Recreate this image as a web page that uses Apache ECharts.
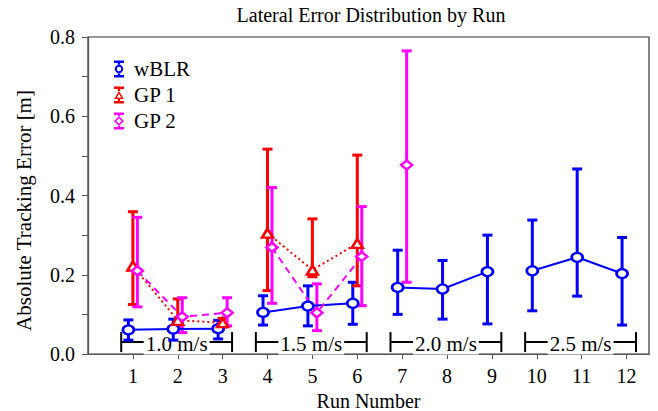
<!DOCTYPE html>
<html><head><meta charset="utf-8">
<script src="https://cdn.jsdelivr.net/npm/echarts@6/dist/echarts.min.js"></script>
<style>html,body{margin:0;padding:0;background:#fff}#c{width:658px;height:411px}</style>
</head><body><div id="c"></div><script>
// ---- data ----
const runs = [1,2,3,4,5,6,7,8,9,10,11,12];
const wblrMean = [0.061, 0.063, 0.064, 0.105, 0.121, 0.128, 0.168, 0.164, 0.208, 0.210, 0.244, 0.203];
const wblrLow  = [0.035, 0.035, 0.038, 0.073, 0.071, 0.075, 0.100, 0.088, 0.076, 0.109, 0.146, 0.073];
const wblrHigh = [0.086, 0.088, 0.085, 0.147, 0.172, 0.181, 0.262, 0.236, 0.300, 0.338, 0.467, 0.294];
const gp1Mean = [0.222, 0.085, 0.079, 0.305, 0.212, 0.279];
const gp1Low  = [0.125, 0.070, 0.068, 0.160, 0.195, 0.172];
const gp1High = [0.359, 0.139, 0.090, 0.517, 0.341, 0.502];
const gp2Mean = [0.210, 0.094, 0.104, 0.269, 0.104, 0.246, 0.477];
const gp2Low  = [0.119, 0.054, 0.071, 0.128, 0.059, 0.122, 0.181];
const gp2High = [0.345, 0.142, 0.142, 0.420, 0.177, 0.372, 0.765];
const speedGroups = [[1,3],[4,6],[7,9],[10,12]];
const speedLabels = ['1.0 m/s','1.5 m/s','2.0 m/s','2.5 m/s'];
const xTickLabels = runs;
const yTickLabels = [0, 0.2, 0.4, 0.6, 0.8];
const yTicks = [0, 0.1, 0.2, 0.3, 0.4, 0.5, 0.6, 0.7, 0.8];

// ---- style ----
const FONT = 'Liberation Serif, Times New Roman, serif';
const BLUE = '#0000ff', RED = '#ff0000', MAG = '#ff00ff';
const DX = {wblr: -0.1, gp1: 0, gp2: 0.1};

const STEM_TOP = 'M1 0H11V2.5H1Z M4.8 2.5H7.2V4.4H4.8Z';
const STEM_BOT = 'M4.8 12.6H7.2V14.5H4.8Z M1 14.5H11V17H1Z';
const ICON_CIRCLE = 'path://' + STEM_TOP + ' M1.8 8.5A4.2 4.2 0 1 0 10.2 8.5A4.2 4.2 0 1 0 1.8 8.5Z M3.8 8.5A2.2 2.2 0 1 1 8.2 8.5A2.2 2.2 0 1 1 3.8 8.5Z ' + STEM_BOT;
const ICON_TRI = 'path://' + STEM_TOP + ' M6 4.4L10.8 12.6L1.2 12.6Z M6 7.4L3.6 11.3L8.4 11.3Z ' + STEM_BOT;
const ICON_DIA = 'path://M1 0H11V2.5H1Z M4.8 2.5H7.2V3.6H4.8Z M6 3.4L11 8.5L6 13.6L1 8.5Z M6 5.7L3.3 8.5L6 11.3L8.7 8.5Z M4.8 13.4H7.2V14.5H4.8Z M1 14.5H11V17H1Z';

function errSeries(name, color, dx, lo, hi) {
  return {
    type: 'custom', name, silent: true, animation: false, z: 2,
    encode: {x: 0, y: [1, 2]},
    data: lo.map((l, i) => [runs[i] + dx, l, hi[i]]),
    renderItem: (params, api) => {
      const x = api.value(0);
      const p1 = api.coord([x, api.value(1)]), p2 = api.coord([x, api.value(2)]);
      const hw = 5, st = {stroke: color, lineWidth: 3};
      return {type: 'group', children: [
        {type: 'line', shape: {x1: p1[0], y1: p1[1], x2: p2[0], y2: p2[1]}, style: st},
        {type: 'line', shape: {x1: p1[0]-hw, y1: p1[1], x2: p1[0]+hw, y2: p1[1]}, style: st},
        {type: 'line', shape: {x1: p2[0]-hw, y1: p2[1], x2: p2[0]+hw, y2: p2[1]}, style: st}
      ]};
    }
  };
}
function lineSeries(name, color, dx, mean, symbol, lineType) {
  return speedGroups.map(g => {
    const pts = [];
    mean.forEach((m, i) => { if (runs[i] >= g[0] && runs[i] <= g[1]) pts.push([runs[i] + dx, m]); });
    if (!pts.length) return null;
    return {
      type: 'line', name, data: pts, symbol, symbolSize: [11, 9], showSymbol: true,
      animation: false, z: 3, silent: true,
      itemStyle: {color: '#fff', borderColor: color, borderWidth: 2.5},
      lineStyle: {color, width: 2, type: lineType}
    };
  }).filter(Boolean);
}
const bracketSeries = {
  type: 'custom', silent: true, animation: false, z: 1,
  encode: {x: [0, 1], y: 2},
  data: speedGroups.map((g, i) => [g[0] - 0.26, g[1] + 0.21, 0.03, i]),
  renderItem: (params, api) => {
    const pl = api.coord([api.value(0), api.value(2)]);
    const pr = api.coord([api.value(1), api.value(2)]);
    const st = {stroke: '#000', lineWidth: 2};
    return {type: 'group', children: [
      {type: 'line', shape: {x1: pl[0], y1: pl[1], x2: pr[0], y2: pr[1]}, style: st},
      {type: 'line', shape: {x1: pl[0], y1: pl[1]-10, x2: pl[0], y2: pl[1]+10}, style: st},
      {type: 'line', shape: {x1: pr[0], y1: pr[1]-10, x2: pr[0], y2: pr[1]+10}, style: st},
      {type: 'text', x: (pl[0]+pr[0])/2, y: pl[1]+2, z2: 10,
       style: {text: speedLabels[api.value(3)], fill: '#000', fontSize: 21, fontFamily: FONT,
               align: 'center', verticalAlign: 'middle', backgroundColor: '#fff', padding: [0, 2]}}
    ]};
  }
};

const chart = echarts.init(document.getElementById('c'), null, {renderer: 'svg'});
chart.setOption({
  animation: false,
  backgroundColor: '#fff',
  title: {text: 'Lateral Error Distribution by Run', left: 366, top: 0, textAlign: 'center',
          textStyle: {fontFamily: FONT, fontSize: 20, fontWeight: 'normal', color: '#000'}},
  grid: {left: 88, right: 9, top: 37, bottom: 57, show: true, borderColor: '#333', borderWidth: 1.2,
         containLabel: false, outerBoundsMode: 'none'},
  legend: {
    orient: 'vertical', left: 109, top: 53, itemWidth: 12, itemHeight: 17, itemGap: 4,
    selectedMode: false,
    textStyle: {fontFamily: FONT, fontSize: 21, lineHeight: 22, color: '#000', padding: [0, 0, 0, 4]},
    data: [
      {name: 'wBLR', icon: ICON_CIRCLE, itemStyle: {color: BLUE, borderWidth: 0}},
      {name: 'GP 1', icon: ICON_TRI, itemStyle: {color: RED, borderWidth: 0}},
      {name: 'GP 2', icon: ICON_DIA, itemStyle: {color: MAG, borderWidth: 0}}
    ]
  },
  xAxis: {
    type: 'value', min: 0, max: 12.5, interval: 1,
    name: 'Run Number', nameLocation: 'middle', nameGap: 31,
    nameTextStyle: {fontFamily: FONT, fontSize: 20, lineHeight: 20, color: '#000'},
    splitLine: {show: false},
    axisLine: {show: true, lineStyle: {color: '#555', width: 1.2}},
    axisTick: {show: true, inside: false, length: 5, customValues: xTickLabels, lineStyle: {color: '#555'}},
    axisLabel: {customValues: xTickLabels, margin: 12, fontFamily: FONT, fontSize: 20, color: '#000'}
  },
  yAxis: {
    type: 'value', min: 0, max: 0.8, interval: 0.1,
    name: 'Absolute Tracking Error [m]', nameLocation: 'middle', nameGap: 54,
    nameTextStyle: {fontFamily: FONT, fontSize: 21, color: '#000', padding: [0, 30, 0, 0]},
    splitLine: {show: false},
    axisLine: {show: true, lineStyle: {color: '#555', width: 1.2}},
    axisTick: {show: true, inside: false, length: 6, customValues: yTicks, lineStyle: {color: '#555'}},
    axisLabel: {customValues: yTickLabels, margin: 13, fontFamily: FONT, fontSize: 20, color: '#000',
                formatter: v => v.toFixed(1)}
  },
  series: [
    bracketSeries,
    errSeries('wBLR', BLUE, DX.wblr, wblrLow, wblrHigh),
    ...lineSeries('wBLR', BLUE, DX.wblr, wblrMean, 'circle', 'solid'),
    errSeries('GP 1', RED, DX.gp1, gp1Low, gp1High),
    ...lineSeries('GP 1', RED, DX.gp1, gp1Mean, 'triangle', [2, 3]),
    errSeries('GP 2', MAG, DX.gp2, gp2Low, gp2High),
    ...lineSeries('GP 2', MAG, DX.gp2, gp2Mean, 'diamond', [7, 5])
  ]
});
</script></body></html>
